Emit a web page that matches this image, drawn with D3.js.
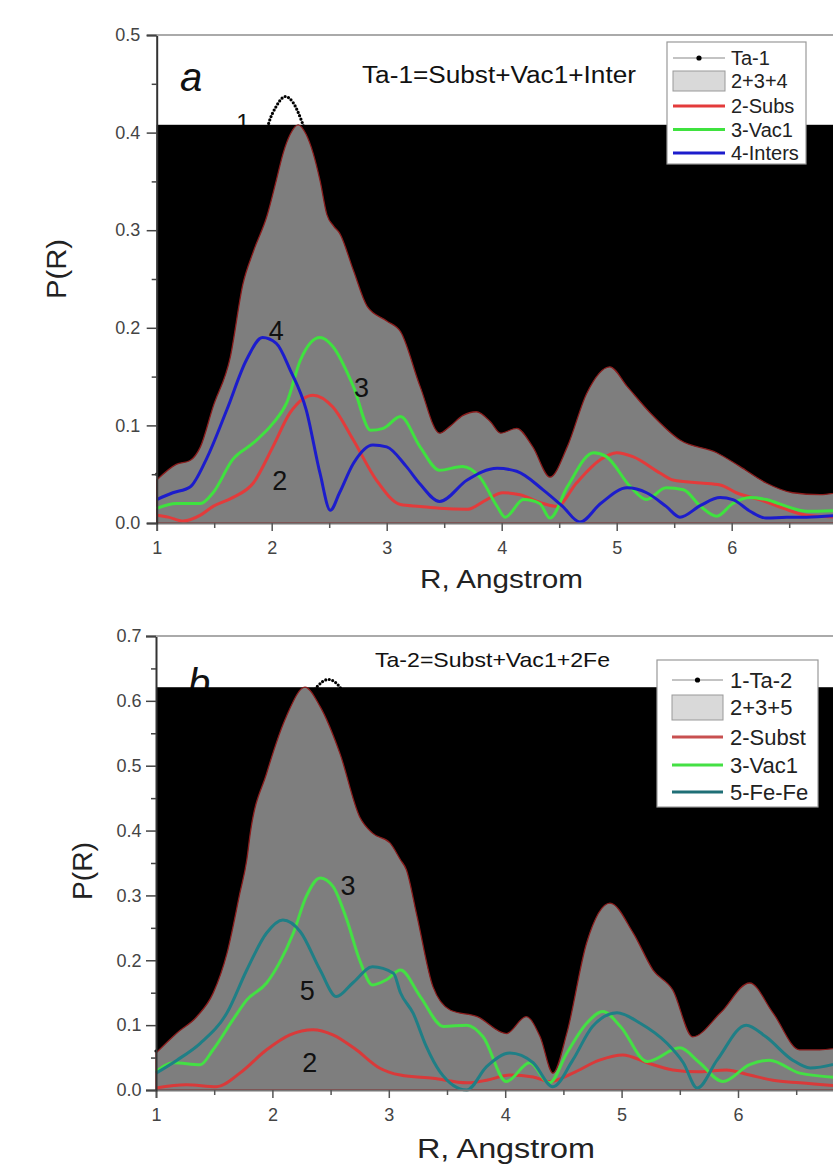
<!DOCTYPE html>
<html><head><meta charset="utf-8">
<script src="https://cdn.jsdelivr.net/npm/d3@7"></script>
<style>
body{margin:0;background:#fff}
svg{display:block}
text{font-family:"Liberation Sans",Arial,Helvetica,sans-serif}
</style>
</head><body>
<svg id="chart" width="833" height="1169"></svg>
<script>
// ================= DATA: panel a =================
const ta1 = [[1.0,0.05],[1.3,0.07],[1.5,0.13],[1.7,0.24],[1.85,0.33],[1.97,0.408],[2.04,0.427],[2.12,0.437],[2.19,0.430],[2.26,0.412],[2.35,0.38],[2.5,0.32],[2.7,0.26],[3.0,0.21],[3.3,0.14],[3.6,0.10],[4.0,0.09],[4.4,0.05],[4.9,0.16],[5.5,0.09],[6.0,0.06],[6.5,0.03],[6.95,0.03]];
const sumA = [[1.0,0.044],[1.17,0.060],[1.29,0.064],[1.38,0.078],[1.49,0.119],[1.64,0.170],[1.75,0.245],[1.84,0.278],[1.96,0.315],[2.04,0.351],[2.10,0.379],[2.16,0.398],[2.23,0.408],[2.30,0.398],[2.36,0.379],[2.42,0.351],[2.48,0.316],[2.54,0.304],[2.59,0.297],[2.71,0.259],[2.83,0.222],[3.0,0.207],[3.12,0.196],[3.29,0.140],[3.46,0.092],[3.55,0.099],[3.66,0.110],[3.78,0.114],[3.9,0.104],[3.99,0.092],[4.13,0.097],[4.27,0.078],[4.42,0.047],[4.57,0.078],[4.74,0.133],[4.94,0.160],[5.09,0.140],[5.29,0.113],[5.55,0.085],[5.87,0.072],[6.07,0.058],[6.30,0.041],[6.53,0.031],[6.77,0.029],[6.95,0.032]];
const subsA = [[1.0,0.008],[1.1,0.006],[1.23,0.002],[1.38,0.008],[1.49,0.017],[1.66,0.026],[1.84,0.041],[2.01,0.078],[2.16,0.113],[2.36,0.131],[2.53,0.119],[2.71,0.085],[2.91,0.044],[3.12,0.019],[3.29,0.017],[3.46,0.015],[3.70,0.014],[3.87,0.024],[4.01,0.031],[4.16,0.029],[4.36,0.020],[4.48,0.017],[4.65,0.041],[4.86,0.065],[5.0,0.072],[5.14,0.068],[5.38,0.051],[5.49,0.044],[5.73,0.041],[5.90,0.039],[6.04,0.031],[6.24,0.024],[6.45,0.015],[6.65,0.008],[6.95,0.006]];
const vacA = [[1.0,0.015],[1.17,0.020],[1.38,0.020],[1.49,0.031],[1.66,0.065],[1.84,0.082],[2.01,0.102],[2.13,0.123],[2.25,0.167],[2.42,0.190],[2.53,0.181],[2.71,0.140],[2.86,0.095],[2.97,0.097],[3.12,0.109],[3.29,0.078],[3.46,0.054],[3.66,0.058],[3.81,0.047],[3.96,0.017],[4.03,0.006],[4.19,0.024],[4.33,0.020],[4.42,0.005],[4.57,0.037],[4.80,0.072],[4.91,0.068],[5.12,0.037],[5.26,0.024],[5.43,0.036],[5.58,0.034],[5.73,0.017],[5.87,0.007],[6.01,0.020],[6.16,0.026],[6.30,0.024],[6.48,0.017],[6.65,0.012],[6.95,0.013]];
const interA = [[1.0,0.024],[1.14,0.031],[1.29,0.037],[1.43,0.065],[1.61,0.116],[1.78,0.167],[1.92,0.190],[2.04,0.184],[2.16,0.157],[2.30,0.116],[2.42,0.051],[2.51,0.013],[2.59,0.031],[2.71,0.061],[2.88,0.080],[3.0,0.078],[3.17,0.058],[3.29,0.040],[3.46,0.022],[3.70,0.044],[3.96,0.056],[4.13,0.053],[4.36,0.034],[4.53,0.017],[4.68,0.001],[4.86,0.020],[5.09,0.036],[5.26,0.031],[5.43,0.017],[5.55,0.006],[5.73,0.018],[5.90,0.026],[6.01,0.024],[6.16,0.012],[6.30,0.005],[6.48,0.006],[6.65,0.006],[6.95,0.008]];

// ================= DATA: panel b =================
const ta2 = [[1.0,0.06],[1.5,0.15],[1.8,0.38],[2.0,0.50],[2.2,0.575],[2.3,0.600],[2.38,0.621],[2.48,0.633],[2.58,0.621],[2.7,0.56],[2.9,0.42],[3.1,0.35],[3.4,0.16],[3.8,0.11],[4.4,0.03],[4.9,0.29],[5.5,0.13],[6.1,0.16],[6.5,0.06],[6.95,0.07]];
const sumB = [[1.0,0.057],[1.18,0.088],[1.35,0.113],[1.49,0.149],[1.61,0.211],[1.72,0.303],[1.78,0.355],[1.81,0.396],[1.95,0.488],[2.12,0.576],[2.28,0.621],[2.41,0.591],[2.58,0.519],[2.75,0.421],[2.86,0.396],[3.01,0.381],[3.10,0.355],[3.15,0.340],[3.24,0.270],[3.38,0.159],[3.53,0.123],[3.76,0.113],[4.01,0.087],[4.18,0.113],[4.30,0.082],[4.41,0.026],[4.53,0.088],[4.70,0.227],[4.90,0.288],[5.10,0.242],[5.27,0.185],[5.44,0.154],[5.61,0.082],[5.85,0.119],[6.10,0.165],[6.30,0.119],[6.53,0.062],[6.70,0.062],[6.95,0.068]];
const subsB = [[1.0,0.003],[1.26,0.008],[1.52,0.005],[1.72,0.026],[1.95,0.062],[2.15,0.085],[2.35,0.093],[2.52,0.085],[2.72,0.062],[2.92,0.034],[3.10,0.023],[3.38,0.018],[3.67,0.011],[3.84,0.015],[4.04,0.023],[4.24,0.020],[4.38,0.013],[4.58,0.026],[4.81,0.046],[5.01,0.054],[5.22,0.042],[5.44,0.031],[5.67,0.028],[5.90,0.031],[6.10,0.023],[6.30,0.015],[6.53,0.011],[6.95,0.005]];
const vacB = [[1.0,0.028],[1.15,0.042],[1.38,0.039],[1.49,0.062],[1.66,0.108],[1.78,0.139],[1.95,0.165],[2.06,0.196],[2.18,0.242],[2.29,0.298],[2.41,0.327],[2.52,0.314],[2.64,0.262],[2.75,0.200],[2.86,0.162],[2.98,0.170],[3.10,0.185],[3.27,0.144],[3.47,0.098],[3.67,0.100],[3.81,0.082],[4.01,0.013],[4.21,0.042],[4.38,0.011],[4.53,0.057],[4.70,0.103],[4.84,0.121],[4.99,0.098],[5.22,0.044],[5.50,0.065],[5.67,0.042],[5.87,0.013],[6.10,0.039],[6.27,0.046],[6.53,0.026],[6.95,0.018]];
const fefeB = [[1.0,0.026],[1.18,0.046],[1.38,0.072],[1.61,0.119],[1.78,0.185],[1.95,0.242],[2.09,0.262],[2.24,0.244],[2.41,0.185],[2.55,0.144],[2.69,0.165],[2.86,0.190],[3.04,0.180],[3.10,0.150],[3.21,0.118],[3.32,0.068],[3.44,0.028],[3.67,0.0],[3.84,0.036],[4.04,0.057],[4.24,0.042],[4.41,0.005],[4.58,0.046],[4.75,0.098],[4.96,0.119],[5.16,0.103],[5.39,0.072],[5.53,0.042],[5.65,0.003],[5.82,0.046],[6.07,0.100],[6.24,0.082],[6.47,0.046],[6.62,0.034],[6.95,0.046]];

// ================= TICKS / TEXT =================
const xTicks = [1,2,3,4,5,6];
const xMinor = [1.5,2.5,3.5,4.5,5.5,6.5];
const yTicksA = [0,0.1,0.2,0.3,0.4,0.5];
const yMinorA = [0.05,0.15,0.25,0.35,0.45];
const yTicksB = [0,0.1,0.2,0.3,0.4,0.5,0.6,0.7];
const yMinorB = [0.05,0.15,0.25,0.35,0.45,0.55,0.65];
const legendA = ["Ta-1","2+3+4","2-Subs","3-Vac1","4-Inters"];
const legendB = ["1-Ta-2","2+3+5","2-Subst","3-Vac1","5-Fe-Fe"];
const titleA = "Ta-1=Subst+Vac1+Inter";
const titleB = "Ta-2=Subst+Vac1+2Fe";
const xTitle = "R, Angstrom";
const yTitle = "P(R)";
const curveLabelsA = [["1",1.75,0.402],["4",2.04,0.1875],["3",2.78,0.129],["2",2.07,0.034]];
const curveLabelsB = [["3",2.65,0.301],["5",2.30,0.139],["2",2.32,0.028]];

// ================= DRAW =================
const svg = d3.select("#chart");
const W = 833;

function panel(cfg){
  const g = svg.append("g");
  const x = d3.scaleLinear().domain([1,7.5]).range([cfg.x0, cfg.x0 + 6.5*cfg.xu]);
  const y = d3.scaleLinear().domain([0,cfg.ymax]).range([cfg.y0, cfg.y0 - cfg.ymax*cfg.yu]);
  const line = d3.line().x(d=>x(d[0])).y(d=>y(d[1])).curve(d3.curveMonotoneX);
  const area = d3.area().x(d=>x(d[0])).y0(y(0)).y1(d=>y(d[1])).curve(d3.curveMonotoneX);

  // panel letter
  g.append("text").attr("x",x(cfg.letter[1])).attr("y",y(cfg.letter[2]))
    .attr("font-size",40).attr("font-style","italic").attr("fill","#111").text(cfg.letter[0]);
  // title
  g.append("text").attr("x",cfg.title.x).attr("y",cfg.title.y)
    .attr("font-size",cfg.title.fs).attr("fill","#111")
    .attr("textLength",cfg.title.len).attr("lengthAdjust","spacingAndGlyphs").text(cfg.title.t);
  // label "1" (partly hidden under the black block)
  cfg.labels.filter(l=>l[0]==="1").forEach(l=>{
    g.append("text").attr("x",x(l[1])).attr("y",y(l[2])).attr("text-anchor","middle")
      .attr("font-size",24).attr("fill","#111").text(l[0]);
  });
  // experimental dotted curve
  g.append("path").attr("d",line(cfg.ta)).attr("fill","none").attr("stroke","#000")
    .attr("stroke-width",3.2).attr("stroke-linecap","round").attr("stroke-dasharray","0,3.6");
  // black block up to area max
  const top = y(d3.max(cfg.sum,d=>d[1]));
  g.append("rect").attr("x",x(1)).attr("y",top).attr("width",W - x(1)).attr("height",y(0)-top).attr("fill","#000");
  // sum area
  g.append("path").attr("d",area(cfg.sum)).attr("fill","#7e7e7e")
    .attr("stroke","#8a1c1c").attr("stroke-width",1.3);
  // component lines
  cfg.series.forEach(s=>{
    g.append("path").attr("d",line(s.data)).attr("fill","none").attr("stroke",s.color)
      .attr("stroke-width",3).attr("stroke-linejoin","round");
  });
  // curve labels
  cfg.labels.filter(l=>l[0]!=="1").forEach(l=>{
    g.append("text").attr("x",x(l[1])).attr("y",y(l[2])).attr("text-anchor","middle")
      .attr("font-size",cfg.labelFs).attr("fill","#111").text(l[0]);
  });

  // axes
  const xa = g.append("g").attr("transform",`translate(0,${y(0)})`)
    .call(d3.axisBottom(x).tickValues(xTicks).tickSize(8).tickPadding(10).tickFormat(d3.format("d")));
  xa.select(".domain").attr("stroke","#777").attr("stroke-width",2);
  xa.selectAll(".tick line").attr("stroke","#555").attr("stroke-width",1.5);
  xa.selectAll("text").attr("font-size",18).attr("fill","#444");
  const xm = g.append("g").attr("transform",`translate(0,${y(0)})`)
    .call(d3.axisBottom(x).tickValues(xMinor).tickSize(5).tickFormat(""));
  xm.select(".domain").remove();
  xm.selectAll(".tick line").attr("stroke","#555").attr("stroke-width",1.5);

  const ya = g.append("g").attr("transform",`translate(${x(1)},0)`)
    .call(d3.axisLeft(y).tickValues(cfg.yTicks).tickSize(10).tickPadding(cfg.yPad).tickFormat(d3.format(".1f")));
  ya.select(".domain").attr("stroke","#333").attr("stroke-width",2);
  ya.selectAll(".tick line").attr("stroke","#444").attr("stroke-width",1.5);
  ya.selectAll("text").attr("font-size",18).attr("fill","#444");
  const ym = g.append("g").attr("transform",`translate(${x(1)},0)`)
    .call(d3.axisLeft(y).tickValues(cfg.yMinor).tickSize(5).tickFormat(""));
  ym.select(".domain").remove();
  ym.selectAll(".tick line").attr("stroke","#444").attr("stroke-width",1.5);

  // top frame line
  g.append("line").attr("x1",x(1)).attr("x2",W).attr("y1",y(cfg.ymax)).attr("y2",y(cfg.ymax))
    .attr("stroke","#aaa").attr("stroke-width",2);

  // axis titles
  g.append("text").attr("x",cfg.xt.x).attr("y",cfg.xt.y).attr("font-size",cfg.xt.fs).attr("fill","#222")
    .attr("textLength",cfg.xt.len).attr("lengthAdjust","spacingAndGlyphs").text(xTitle);
  g.append("text").attr("transform",`translate(${cfg.yt.x},${cfg.yt.y}) rotate(-90)`)
    .attr("text-anchor","middle").attr("font-size",cfg.yt.fs).attr("fill","#222")
    .attr("textLength",cfg.yt.len).attr("lengthAdjust","spacingAndGlyphs").text(yTitle);

  // legend
  const L = cfg.leg;
  const lg = g.append("g");
  lg.append("rect").attr("x",L.x).attr("y",L.y).attr("width",L.w).attr("height",L.h)
    .attr("fill","#fff").attr("stroke","#999").attr("stroke-width",1.2);
  cfg.legItems.forEach((it,i)=>{
    const ry = L.rows[i];
    if(it.type==="dot"){
      lg.append("line").attr("x1",L.lx0).attr("x2",L.lx1).attr("y1",ry).attr("y2",ry)
        .attr("stroke","#888").attr("stroke-width",1.2);
      lg.append("circle").attr("cx",(L.lx0+L.lx1)/2).attr("cy",ry).attr("r",2.6).attr("fill","#000");
    } else if(it.type==="rect"){
      lg.append("rect").attr("x",L.lx0).attr("y",ry-L.rh/2).attr("width",L.lx1-L.lx0).attr("height",L.rh)
        .attr("fill","#d9d9d9").attr("stroke","#999").attr("stroke-width",1);
    } else {
      lg.append("line").attr("x1",L.lx0).attr("x2",L.lx1).attr("y1",ry).attr("y2",ry)
        .attr("stroke",it.color).attr("stroke-width",3);
    }
    lg.append("text").attr("x",L.tx).attr("y",ry).attr("dy","0.36em").attr("font-size",L.fs)
      .attr("fill","#222").text(it.label);
  });
}

panel({
  x0:156.7, xu:115, y0:523, yu:976, ymax:0.5,
  yTicks:yTicksA, yMinor:yMinorA, yPad:6.5,
  ta:ta1, sum:sumA,
  series:[{data:subsA,color:"#e33b3b"},{data:vacA,color:"#3fe23f"},{data:interA,color:"#1c1ccc"}],
  labels:curveLabelsA, labelFs:27,
  letter:["a",1.203,0.443],
  title:{t:titleA,x:362,y:83,fs:23,len:274},
  xt:{x:420,y:588,fs:26,len:163},
  yt:{x:66,y:269,fs:27,len:60},
  leg:{x:667,y:42,w:139,h:122,rows:[58,81,106,129.5,153],lx0:673,lx1:725,tx:731,fs:20,rh:20},
  legItems:[{label:legendA[0],type:"dot"},{label:legendA[1],type:"rect"},
    {label:legendA[2],color:"#e33b3b"},{label:legendA[3],color:"#3fe23f"},{label:legendA[4],color:"#1c1ccc"}]
});

panel({
  x0:156, xu:116.4, y0:1090, yu:648.6, ymax:0.7,
  yTicks:yTicksB, yMinor:yMinorB, yPad:4.5,
  ta:ta2, sum:sumB,
  series:[{data:subsB,color:"#d93a3a"},{data:vacB,color:"#44e044"},{data:fefeB,color:"#1f7f86"}],
  labels:curveLabelsB, labelFs:27,
  letter:["b",1.275,0.606],
  title:{t:titleB,x:375,y:667,fs:21,len:235},
  xt:{x:417,y:1158,fs:27,len:178},
  yt:{x:92,y:871,fs:27,len:58},
  leg:{x:657,y:660,w:161,h:147,rows:[680,707.5,737,765,792],lx0:672,lx1:723,tx:730,fs:22,rh:25},
  legItems:[{label:legendB[0],type:"dot"},{label:legendB[1],type:"rect"},
    {label:legendB[2],color:"#c85050"},{label:legendB[3],color:"#44e044"},{label:legendB[4],color:"#1f6f76"}]
});
</script>
</body></html>
